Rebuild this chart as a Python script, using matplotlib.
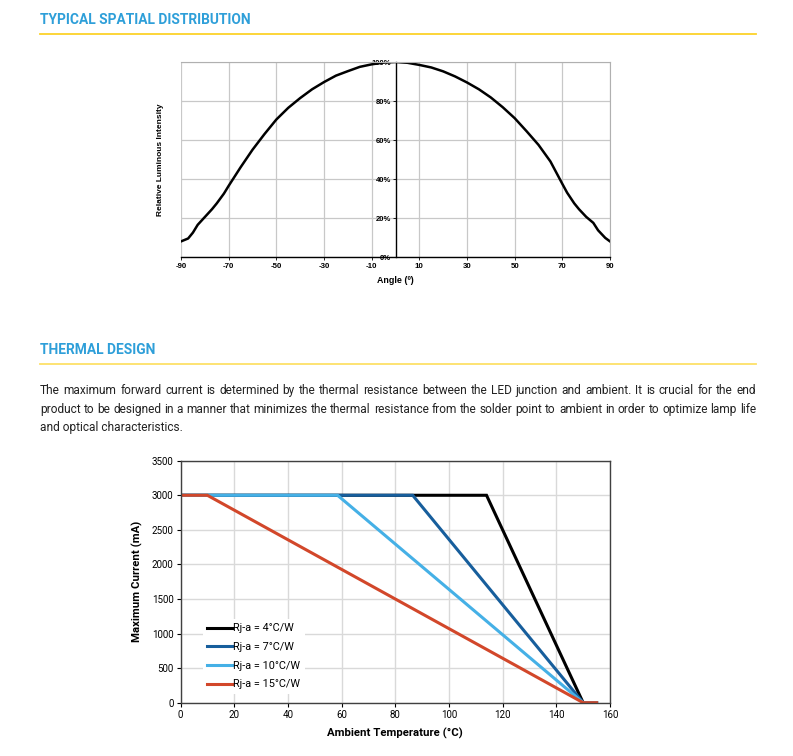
import matplotlib
matplotlib.use("Agg")
import matplotlib.pyplot as plt
from matplotlib.lines import Line2D

# ---------------- data ----------------
angles = [-90, -87, -85, -83, -80, -77, -75, -72, -70, -65, -60, -55, -50, -45, -40, -35, -30, -25,
          -20, -15, -10, -5, 0, 5, 10, 15, 20, 25, 30, 35, 40, 45, 50, 55, 60, 65, 70, 72, 75, 77,
          80, 83, 85, 88, 90]
intensity = [8, 9.5, 12.5, 16.5, 20.5, 24.5, 27.5, 32.5, 36.5, 46, 55, 63, 70.5, 76.5, 81.5, 86, 89.7, 93,
             95.3, 97.5, 98.8, 99.7, 100, 99.6, 98.5, 97.2, 95.2, 92.6, 89.5, 86, 81.8, 76.8, 71.2, 64.5,
             57.5, 49, 37.5, 33, 27.5, 24.5, 20.6, 17.5, 13.7, 9.8, 8]
angle_ticks = [-90, -70, -50, -30, -10, 10, 30, 50, 70, 90]
pct_ticks = [0, 20, 40, 60, 80, 100]

series_labels = ["Rj-a = 4°C/W", "Rj-a = 7°C/W", "Rj-a = 10°C/W", "Rj-a = 15°C/W"]
temp_4 = [0, 114, 150, 155]
temp_7 = [0, 86.5, 150, 155]
temp_10 = [0, 58.5, 150, 155]
temp_15 = [0, 10, 150, 155]
current = [3000, 3000, 0, 0]
temp_ticks = [0, 20, 40, 60, 80, 100, 120, 140, 160]
cur_ticks = [0, 500, 1000, 1500, 2000, 2500, 3000, 3500]
series_colors = ["#000000", "#175e9c", "#45b0e6", "#d2472a"]

header1 = "TYPICAL SPATIAL DISTRIBUTION"
header2 = "THERMAL DESIGN"
para_lines = [
    "The maximum forward current is determined by the thermal resistance between the LED junction and ambient. It is crucial for the end",
    "product to be designed in a manner that minimizes the thermal resistance from the solder point to ambient in order to optimize lamp life",
    "and optical characteristics.",
]

# ---------------- figure ----------------
W, H = 793, 756
fig = plt.figure(figsize=(W / 100, H / 100), dpi=100)

def fx(px):
    return px / W

def fy(py):
    return 1 - py / H

head_color = "#2e9fd9"
font = "Roboto"
fig.text(fx(40), fy(19.5), header1, fontsize=9.9, fontweight="bold", color=head_color,
         family=font, va="center", ha="left")
fig.add_artist(Line2D([fx(40), fx(756)], [fy(34), fy(34)], color="#fcd22a", lw=1.3))
fig.text(fx(40), fy(350.5), header2, fontsize=9.9, fontweight="bold", color=head_color,
         family=font, va="center", ha="left")
fig.add_artist(Line2D([fx(40), fx(756)], [fy(364), fy(364)], color="#fde068", lw=1.3))

# paragraph (justified)
renderer = fig.canvas.get_renderer()
para_y = [390, 409, 428]
target = 716.0

def measure(words, size):
    out = []
    for w in words:
        t = fig.text(0, 0, w, fontsize=size, family=font)
        out.append(t.get_window_extent(renderer).width)
        t.remove()
    return out

size = 9.4
while size > 7.5:
    ok = True
    for line in para_lines[:2]:
        words = line.split(" ")
        ws = measure(words, size)
        natural = sum(ws) + (len(words) - 1) * 0.249 * size * 100 / 72
        if natural > target:
            ok = False
            break
    if ok:
        break
    size -= 0.1

for i, (line, y) in enumerate(zip(para_lines, para_y)):
    kw = dict(fontsize=size, color="#222222", family=font, va="center", ha="left")
    if i < 2:
        words = line.split(" ")
        ts = [fig.text(0, fy(y), w, **kw) for w in words]
        widths = [t.get_window_extent(renderer).width for t in ts]
        gap = (target - sum(widths)) / (len(words) - 1)
        x = 40
        for t, w in zip(ts, widths):
            t.set_x(fx(x))
            x += w + gap
    else:
        fig.text(fx(40), fy(y), line, **kw)

# ---------------- top chart ----------------
ax1 = fig.add_axes([fx(181), fy(257), fx(610) - fx(181), (257 - 62) / H])
ax1.spines["left"].set_position(("data", 0))
ax1.plot(angles, intensity, color="black", lw=1.8, solid_joinstyle="round")
ax1.set_xlim(-90, 90)
ax1.set_ylim(0, 100)
ax1.set_xticks(angle_ticks)
ax1.set_xticklabels([str(a) for a in angle_ticks], fontsize=5.7, fontweight="bold",
                    family="Liberation Sans")
ax1.set_yticks(pct_ticks)
ax1.set_yticklabels([f"{p}%" for p in pct_ticks], fontsize=5.5, fontweight="bold",
                    family="Liberation Sans")
ax1.grid(True, color="#c8c8c8", lw=0.9)
ax1.set_axisbelow(True)
ax1.spines["left"].set_color("black")
ax1.spines["left"].set_linewidth(1.0)
ax1.spines["bottom"].set_color("black")
ax1.spines["bottom"].set_linewidth(1.0)
for s in ["top", "right"]:
    ax1.spines[s].set_color("#b0b0b0")
ax1.tick_params(axis="x", length=2, width=0.6, pad=2)
ax1.tick_params(axis="y", length=2, width=0.6, pad=1)
fig.text(fx(395.5), fy(281), "Angle (º)", fontsize=6.4, fontweight="bold",
         family="Liberation Sans", ha="center", va="center")
fig.text(fx(160), fy(160), "Relative Luminous Intensity", fontsize=6.0, fontweight="bold",
         family="Liberation Sans", ha="center", va="center", rotation=90)

# ---------------- bottom chart ----------------
ax2 = fig.add_axes([fx(180.5), fy(702.7), fx(610) - fx(180.5), (702.7 - 460.7) / H])
for temps, lab, col in zip([temp_4, temp_7, temp_10, temp_15], series_labels, series_colors):
    ax2.plot(temps, current, color=col, lw=2.2, label=lab, solid_joinstyle="miter")
ax2.set_xlim(0, 160)
ax2.set_ylim(0, 3500)
ax2.set_xticks(temp_ticks)
ax2.set_yticks(cur_ticks)
ax2.set_xticklabels([str(t) for t in temp_ticks], fontsize=7.0, family="Roboto")
ax2.set_yticklabels([str(c) for c in cur_ticks], fontsize=7.0, family="Roboto")
ax2.grid(True, color="#d9d9d9", lw=1.0)
ax2.set_axisbelow(True)
for s in ax2.spines.values():
    s.set_color("#404040")
    s.set_linewidth(1.0)
ax2.tick_params(length=3, width=0.8, pad=2)
ax2.set_xlabel("Ambient Temperature (°C)", fontsize=8.2, fontweight="bold", family="Roboto",
               labelpad=6)
ax2.set_ylabel("Maximum Current (mA)", fontsize=8.2, fontweight="bold", family="Roboto",
               labelpad=6)
leg = ax2.legend(loc="lower left", bbox_to_anchor=(0.04, 0.015), frameon=True, fancybox=False,
                 edgecolor="none", facecolor="white", framealpha=1,
                 prop={"family": "Roboto", "size": 7.8}, handlelength=2.3, handletextpad=0.1,
                 labelspacing=0.8, borderpad=0.4)

fig.savefig("out.png", dpi=100)
